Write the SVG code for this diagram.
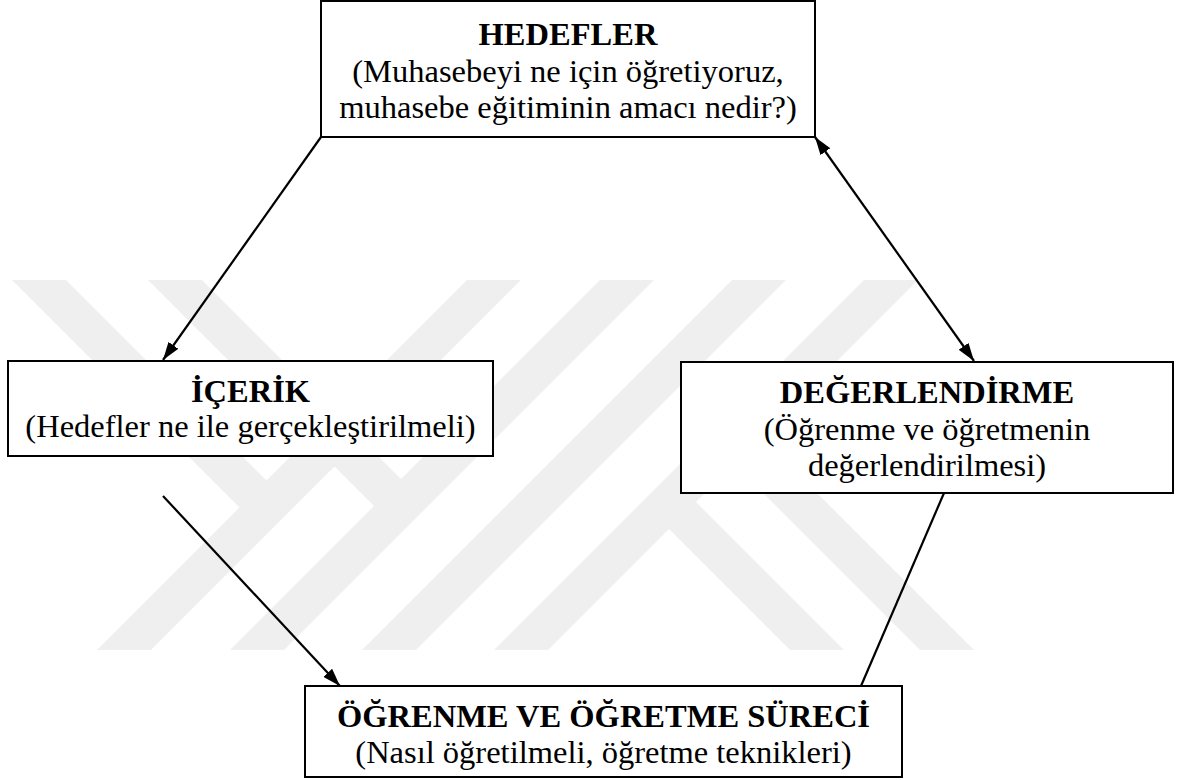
<svg xmlns="http://www.w3.org/2000/svg" width="1181" height="780" viewBox="0 0 1181 780">
<defs>
<style>
.wm{fill:#efefef}
.box{fill:#ffffff;stroke:#000000;stroke-width:2}
.t{font-family:"Liberation Serif","Times New Roman",serif;font-size:32.5px;fill:#000000;text-anchor:middle}
.b{font-weight:bold}
.edge{stroke:#000000;stroke-width:2.2;fill:none}
</style>
<marker id="ah" viewBox="0 0 18 12" refX="18" refY="6" markerWidth="18" markerHeight="12" markerUnits="userSpaceOnUse" orient="auto-start-reverse">
<path d="M0,0 L18,6 L0,12 z" fill="#000000"/>
</marker>
</defs>
<rect x="0" y="0" width="1181" height="780" fill="#ffffff"/>
<g id="watermark">
<polygon class="wm" points="467,280 521,280 151,650 97,650"/>
<polygon class="wm" points="600,280 654,280 284,650 230,650"/>
<polygon class="wm" points="732,280 786,280 416,650 362,650"/>
<polygon class="wm" points="864,280 918,280 548,650 494,650"/>
<polygon class="wm" points="12,280 66,280 293.5,507.5 239.5,507.5"/>
<polygon class="wm" points="148,280 202,280 428,506 374,506"/>
<polygon class="wm" points="642,502 696,502 844,650 790,650"/>
<polygon class="wm" points="707,437 761,437 974,650 920,650"/>
</g>
<g id="hedefler">
<rect class="box" x="321" y="1" width="494" height="136"/>
<text class="t b" x="568" y="45">HEDEFLER</text>
<text class="t" x="568" y="82">(Muhasebeyi ne için öğretiyoruz,</text>
<text class="t" x="568" y="118">muhasebe eğitiminin amacı nedir?)</text>
</g>
<g id="icerik">
<rect class="box" x="8" y="361" width="485" height="95"/>
<text class="t b" x="250.5" y="402">İÇERİK</text>
<text class="t" x="250.5" y="437">(Hedefler ne ile gerçekleştirilmeli)</text>
</g>
<g id="degerlendirme">
<rect class="box" x="681" y="362" width="492" height="131"/>
<text class="t b" x="927" y="403">DEĞERLENDİRME</text>
<text class="t" x="927" y="440">(Öğrenme ve öğretmenin</text>
<text class="t" x="927" y="476">değerlendirilmesi)</text>
</g>
<g id="ogrenme">
<rect class="box" x="305" y="686" width="597" height="91"/>
<text class="t b" x="603.5" y="727">ÖĞRENME VE ÖĞRETME SÜRECİ</text>
<text class="t" x="603.5" y="763">(Nasıl öğretilmeli, öğretme teknikleri)</text>
</g>
<g id="connectors">
<line class="edge" x1="321" y1="137" x2="163" y2="360" marker-end="url(#ah)"/>
<line class="edge" x1="815" y1="137" x2="974" y2="361" marker-start="url(#ah)" marker-end="url(#ah)"/>
<line class="edge" x1="163" y1="496" x2="340" y2="686" marker-end="url(#ah)"/>
<line class="edge" x1="944" y1="493" x2="861" y2="686"/>
</g>
</svg>
